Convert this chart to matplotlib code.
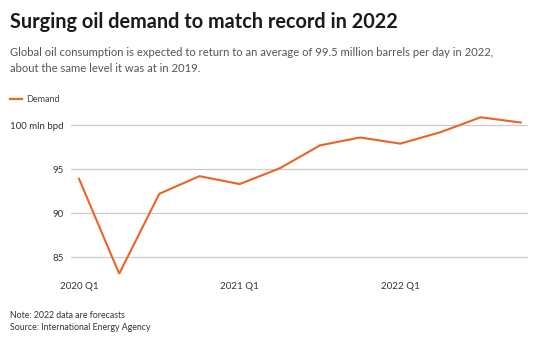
import matplotlib.pyplot as plt

# --- data (mln barrels per day, quarterly)
quarters = ["2020 Q1", "2020 Q2", "2020 Q3", "2020 Q4",
            "2021 Q1", "2021 Q2", "2021 Q3", "2021 Q4",
            "2022 Q1", "2022 Q2", "2022 Q3", "2022 Q4"]
demand = [93.9, 83.1, 92.2, 94.2, 93.3, 95.1, 97.7, 98.6, 97.9, 99.2, 100.9, 100.3]
y_ticks = [85, 90, 95, 100]
y_labels = ["85", "90", "95", "100 mln bpd"]
x_tick_idx = [0, 4, 8]

W, H = 534, 339
fig = plt.figure(figsize=(W / 100, H / 100), dpi=100)
plt.rcParams['font.family'] = ['Lato', 'DejaVu Sans']

line_col = '#eb6326'
grid_col = '#cccccc'

# axes placed in pixel coords
left, right, top, bottom = 71, 528, 112, 279
ax = fig.add_axes([left / W, 1 - bottom / H, (right - left) / W, (bottom - top) / H])

x = list(range(len(demand)))
ax.plot(x, demand, color=line_col, lw=1.5, solid_joinstyle='miter')

ax.set_xlim(-0.2, 11.18)
ax.set_ylim(82.5, 101.5)
ax.set_yticks(y_ticks)
ax.set_yticklabels(y_labels)
ax.set_xticks(x_tick_idx)
ax.set_xticklabels([quarters[i] for i in x_tick_idx])
ax.grid(axis='y', color=grid_col, lw=0.9)
ax.set_axisbelow(True)
for s in ax.spines.values():
    s.set_visible(False)
ax.tick_params(axis='both', length=0, labelsize=7, colors='#333333')
ax.tick_params(axis='y', pad=5)
ax.tick_params(axis='x', pad=2)

# --- titles
fig.text(10 / W, 1 - 22 / H, "Surging oil demand to match record in 2022",
         fontsize=14.3, fontweight='bold', color='#1a1a1a', va='center')
fig.text(10 / W, 1 - 52.5 / H,
         "Global oil consumption is expected to return to an average of 99.5 million barrels per day in 2022,",
         fontsize=8.1, color='#555555', va='center')
fig.text(10 / W, 1 - 68.5 / H, "about the same level it was at in 2019.",
         fontsize=8.1, color='#555555', va='center')

# legend
fig.add_artist(plt.Line2D([10 / W, 22 / W], [1 - 99 / H, 1 - 99 / H], color=line_col, lw=1.6))
fig.text(26 / W, 1 - 99.5 / H, "Demand", fontsize=6.5, color='#444444', va='center')

# footer
fig.text(10 / W, 1 - 315 / H, "Note: 2022 data are forecasts", fontsize=6.3, color='#333333', va='center')
fig.text(10 / W, 1 - 327.5 / H, "Source: International Energy Agency", fontsize=6.3, color='#333333', va='center')

fig.savefig("out.png", dpi=100, facecolor='white')
